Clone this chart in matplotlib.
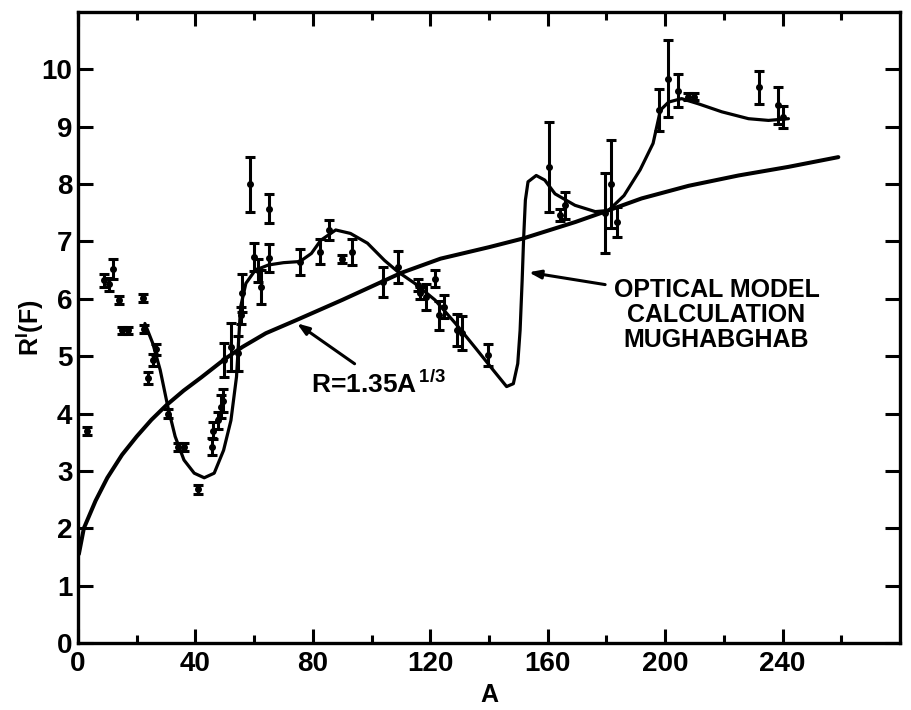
import matplotlib
matplotlib.use("Agg")
import matplotlib.pyplot as plt

# ── Style ──────────────────────────────────────────────────
plt.rcParams["font.family"] = ["Liberation Sans", "DejaVu Sans"]
plt.rcParams["font.weight"] = "bold"
plt.rcParams["mathtext.fontset"] = "custom"
plt.rcParams["mathtext.rm"] = "Liberation Sans:bold"
plt.rcParams["mathtext.it"] = "Liberation Sans:bold"
plt.rcParams["mathtext.bf"] = "Liberation Sans:bold"

# ── Data ───────────────────────────────────────────────────
# measured points: mass number A, R'(F), half-length of error bar
A_pts = [3, 9, 10.5, 12, 14, 15, 17, 22, 22.5, 24, 25.5, 26.5, 30.5, 34, 36,
         41, 45.5, 46, 47.8, 48.8, 49.5, 49.7, 52.2, 54.4, 55.4, 56.0, 58.6,
         60.1, 61.2, 62.3, 65.0, 65.0, 75.6, 82.3, 85.5, 90.0, 93.4, 104, 109,
         115.9, 116.5, 118.7, 121.5, 122.9, 124.6, 129.2, 130.9, 139.6, 160.5,
         164.2, 165.9, 179.5, 181.6, 183.6, 197.9, 201, 204.5, 207.8, 210,
         232, 238.4, 240.2]
R_pts = [3.70, 6.32, 6.25, 6.52, 5.98, 5.45, 5.45, 6.01, 5.48, 4.62, 4.93, 5.12,
         4.00, 3.42, 3.42, 2.68, 3.42, 3.70, 3.88, 4.12, 4.22, 4.93, 5.16, 5.05,
         5.71, 6.10, 8.00, 6.73, 6.50, 6.21, 6.71, 7.57, 6.64, 6.82, 7.20, 6.70,
         6.82, 6.30, 6.56, 6.24, 6.10, 6.03, 6.35, 5.71, 5.86, 5.45, 5.40, 5.02,
         8.30, 7.46, 7.63, 7.49, 8.00, 7.34, 9.29, 9.84, 9.63, 9.52, 9.52, 9.69,
         9.37, 9.17]
R_err = [0.07, 0.12, 0.12, 0.17, 0.07, 0.06, 0.06, 0.07, 0.07, 0.10, 0.10, 0.10,
         0.08, 0.07, 0.07, 0.08, 0.15, 0.15, 0.15, 0.20, 0.20, 0.30, 0.42, 0.30,
         0.15, 0.33, 0.48, 0.25, 0.20, 0.30, 0.25, 0.25, 0.22, 0.22, 0.17, 0.07,
         0.23, 0.26, 0.28, 0.10, 0.10, 0.22, 0.15, 0.25, 0.20, 0.28, 0.30, 0.19,
         0.78, 0.10, 0.23, 0.70, 0.77, 0.26, 0.36, 0.67, 0.29, 0.06, 0.06, 0.29,
         0.32, 0.19]

# optical model calculation (Mughabghab)
opt_A = [22.8, 25.5, 28.0, 30.6, 33.1, 36.1, 39.6, 43.0, 46.4, 49.6, 52.1, 54.0,
         54.8, 55.4, 57.2, 60.4, 64.9, 70.0, 75.6, 79.5, 82.7, 87.8, 92.8, 98.6,
         104.4, 109.0, 114.7, 121.6, 128.6, 135.6, 141.4, 146.0, 148.3, 149.8,
         150.6, 151.3, 151.8, 152.4, 153.3, 156.1, 159.0, 162.5, 169.3, 176.2,
         180.7, 186.0, 191.5, 195.9, 198.4, 201.2, 205.6, 211.3, 219.3, 228.4,
         235.2, 242.0]
opt_R = [5.57, 5.22, 4.76, 4.12, 3.60, 3.19, 2.96, 2.88, 2.96, 3.36, 3.88, 4.64,
         5.34, 5.86, 6.27, 6.50, 6.59, 6.63, 6.65, 6.79, 7.02, 7.20, 7.14, 6.97,
         6.67, 6.47, 6.27, 5.98, 5.57, 5.13, 4.76, 4.47, 4.52, 4.87,
         5.45, 6.32, 7.05, 7.72, 8.04, 8.15, 8.07, 7.83, 7.63, 7.52,
         7.54, 7.80, 8.25, 8.71, 9.29, 9.43, 9.49, 9.40, 9.26, 9.14,
         9.11, 9.14]

# R = 1.35 A^(1/3) curve as drawn
r13_A = [0.3, 2, 6, 10, 15, 20, 25, 30, 36, 42, 50, 56, 64, 74, 90, 104.5,
         110, 123.5, 140, 151.5, 169.5, 179.5, 192, 208, 225, 242, 259]
r13_R = [1.55, 2.00, 2.48, 2.88, 3.28, 3.60, 3.89, 4.14, 4.40, 4.63, 4.95, 5.16,
         5.40, 5.62, 5.98, 6.32, 6.45, 6.70, 6.90, 7.05, 7.34, 7.52, 7.75, 7.97,
         8.15, 8.30, 8.47]

x_major = [0, 40, 80, 120, 160, 200, 240]
x_minor = [20, 60, 100, 140, 180, 220, 260]
y_ticks = list(range(0, 11))

# ── Figure ─────────────────────────────────────────────────
fig = plt.figure(figsize=(9.11, 7.10), dpi=100)
ax = fig.add_axes([0.0856, 0.0944, 0.9023, 0.8887])

ax.plot(r13_A, r13_R, color="k", linewidth=2.9, solid_capstyle="round",
        solid_joinstyle="round")
ax.plot(opt_A, opt_R, color="k", linewidth=2.3, solid_capstyle="round",
        solid_joinstyle="round")
ax.errorbar(A_pts, R_pts, yerr=R_err, fmt="o", color="k", ms=4,
            elinewidth=2.2, capsize=3.6, capthick=2.2)

# annotations
ax.annotate("", xy=(73.8, 5.60), xytext=(95.0, 4.84),
            arrowprops=dict(arrowstyle="-|>,head_length=0.7,head_width=0.25",
                            color="k", lw=2.2))
ax.text(79.4, 4.36, r"R=1.35A$^{\,1/3}$", fontsize=19, fontweight="bold",
        ha="left", va="baseline")

ax.annotate("", xy=(152.6, 6.47), xytext=(180.5, 6.24),
            arrowprops=dict(arrowstyle="-|>,head_length=0.7,head_width=0.25",
                            color="k", lw=2.2))
ax.text(217.5, 6.36, "OPTICAL MODEL\nCALCULATION\nMUGHABGHAB", fontsize=18,
        fontweight="bold", ha="center", va="top", linespacing=1.05)

# ── Axes ───────────────────────────────────────────────────
ax.set_xlim(0, 280)
ax.set_ylim(0, 11)
ax.set_xticks(x_major)
ax.set_xticks(x_minor, minor=True)
ax.set_yticks(y_ticks)
ax.tick_params(which="both", direction="in", top=True, right=True,
               width=2.2, labelsize=20, pad=6)
ax.tick_params(axis="x", which="major", length=10)
ax.tick_params(axis="x", which="minor", length=6)
ax.tick_params(axis="y", which="major", length=11, pad=4)
for s in ax.spines.values():
    s.set_linewidth(2.4)

ax.set_xlabel("A", fontsize=18, fontweight="bold", labelpad=4)
ax.set_ylabel(r"R$^\mathrm{I}$(F)", fontsize=18, fontweight="bold",
              va="center")
ax.yaxis.set_label_coords(-0.058, 0.5)

fig.savefig("out.png", dpi=100)
